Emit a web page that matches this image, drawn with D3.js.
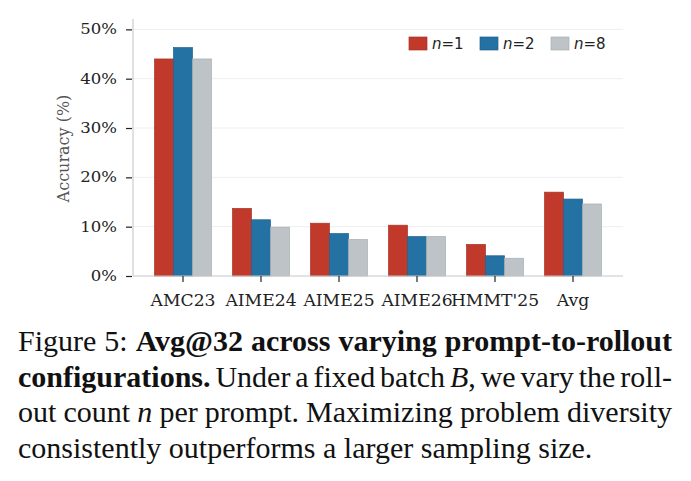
<!DOCTYPE html>
<html>
<head>
<meta charset="utf-8">
<script src="https://cdn.jsdelivr.net/npm/d3@7"></script>
<style>
  body { margin: 0; background: #fff; }
  svg { display: block; }
</style>
</head>
<body>
<div id="chart"></div>
<script>
const width = 691, height = 481;

// data
const categories = ["AMC23", "AIME24", "AIME25", "AIME26", "HMMT'25", "Avg"];
const seriesKeys = ["1", "2", "8"];
const n1 = [44.0, 13.7, 10.7, 10.3, 6.4, 17.0];
const n2 = [46.3, 11.4, 8.6, 8.0, 4.1, 15.6];
const n8 = [44.0, 9.9, 7.4, 8.0, 3.6, 14.6];
const yTicks = [0, 10, 20, 30, 40, 50];

const seriesValues = [n1, n2, n8];
const fills = ["#c0392b", "#2471a3", "#bdc3c7"];
const edges = ["#a93226", "#1f618d", "#a6afb3"];

const plot = {left: 133, right: 623, top: 19, bottom: 276};

const svg = d3.select("#chart")
  .append("svg")
  .attr("width", width)
  .attr("height", height);

// widen text a little, the figure in the paper is stretched sideways
function stretch(sel, k) {
  sel.each(function() {
    const w = this.getComputedTextLength();
    d3.select(this).attr("textLength", w * k).attr("lengthAdjust", "spacingAndGlyphs");
  });
}

const x0 = d3.scaleBand()
  .domain(categories)
  .range([plot.left, plot.right])
  .paddingInner(0.269)
  .paddingOuter(0.2755);

const x1 = d3.scaleBand()
  .domain(seriesKeys)
  .range([0, x0.bandwidth()]);

const y = d3.scaleLinear()
  .domain([0, 52.1])
  .range([plot.bottom, plot.top]);

// grid
svg.append("g")
  .selectAll("line")
  .data(yTicks.filter(d => d > 0))
  .join("line")
    .attr("x1", plot.left)
    .attr("x2", plot.right)
    .attr("y1", d => y(d))
    .attr("y2", d => y(d))
    .attr("stroke", "#eeeeee")
    .attr("stroke-width", 1);

// bars
const rows = categories.map((c, i) => ({cat: c, vals: seriesKeys.map((k, j) => ({key: k, j: j, v: seriesValues[j][i]}))}));

svg.append("g")
  .selectAll("g")
  .data(rows)
  .join("g")
    .attr("transform", d => `translate(${x0(d.cat)},0)`)
  .selectAll("rect")
  .data(d => d.vals)
  .join("rect")
    .attr("x", d => x1(d.key))
    .attr("y", d => y(d.v))
    .attr("width", x1.bandwidth())
    .attr("height", d => y(0) - y(d.v))
    .attr("fill", d => fills[d.j])
    .attr("stroke", d => edges[d.j])
    .attr("stroke-width", 0.7);

// spines
svg.append("line")
  .attr("x1", plot.left).attr("x2", plot.left)
  .attr("y1", plot.top).attr("y2", plot.bottom)
  .attr("stroke", "#c8c8c8").attr("stroke-width", 1.1);
svg.append("line")
  .attr("x1", plot.left).attr("x2", plot.right)
  .attr("y1", plot.bottom).attr("y2", plot.bottom)
  .attr("stroke", "#c8c8c8").attr("stroke-width", 1.1);

// y axis
const yAxis = svg.append("g")
  .attr("transform", `translate(${plot.left - 1},0)`)
  .call(d3.axisLeft(y).tickValues(yTicks).tickSize(6).tickPadding(9).tickFormat(d => d + "%"));
yAxis.select(".domain").remove();
yAxis.selectAll(".tick line").attr("stroke", "#222").attr("stroke-width", 1.2);
yAxis.selectAll(".tick text")
  .attr("font-family", "DejaVu Serif")
  .attr("font-size", 14)
  .attr("fill", "#222")
  .call(stretch, 1.18);

// x axis
const xAxis = svg.append("g")
  .attr("transform", `translate(0,${plot.bottom})`)
  .call(d3.axisBottom(x0).tickSize(6).tickPadding(12));
xAxis.select(".domain").remove();
xAxis.selectAll(".tick line").attr("stroke", "#222").attr("stroke-width", 1.2);
xAxis.selectAll(".tick text")
  .attr("font-family", "DejaVu Serif")
  .attr("font-size", 17.2)
  .attr("fill", "#222");

// y label
svg.append("text")
  .attr("transform", `translate(69,${(plot.top + plot.bottom) / 2 + 1}) rotate(-90)`)
  .attr("text-anchor", "middle")
  .attr("font-family", "DejaVu Serif")
  .attr("font-size", 16)
  .attr("fill", "#555")
  .text("Accuracy (%)");

// legend
const legend = svg.append("g").attr("transform", "translate(409,37)");
const item = legend.selectAll("g")
  .data(seriesKeys)
  .join("g")
    .attr("transform", (d, i) => `translate(${i * 71},0)`);
item.append("rect")
  .attr("width", 18)
  .attr("height", 13)
  .attr("fill", (d, i) => fills[i])
  .attr("stroke", (d, i) => edges[i])
  .attr("stroke-width", 0.7);
const lt = item.append("text")
  .attr("x", 23)
  .attr("y", 12)
  .attr("font-family", "DejaVu Sans")
  .attr("font-size", 15)
  .attr("fill", "#222");
lt.append("tspan").attr("font-style", "italic").text("n");
lt.append("tspan").text(d => "=" + d);

// caption, justified lines
const capLeft = 18, capRight = 672, capFont = 30;
const R = "normal", Bd = "bold", It = "italic";
const captionLines = [
  {justify: true, words: [
    [["Figure", R]], [["5:", R]], [["Avg@32", Bd]], [["across", Bd]], [["varying", Bd]], [["prompt-to-rollout", Bd]]]},
  {justify: true, words: [
    [["configurations.", Bd]], [["Under", R]], [["a", R]], [["fixed", R]], [["batch", R]], [["B", It], [",", R]],
    [["we", R]], [["vary", R]], [["the", R]], [["roll-", R]]]},
  {justify: true, words: [
    [["out", R]], [["count", R]], [["n", It]], [["per", R]], [["prompt.", R]], [["Maximizing", R]], [["problem", R]], [["diversity", R]]]},
  {justify: false, words: [
    [["consistently", R]], [["outperforms", R]], [["a", R]], [["larger", R]], [["sampling", R]], [["size.", R]]]}
];
const capBase = [351, 387, 422, 458];

const cap = svg.append("g")
  .attr("font-family", "Liberation Serif")
  .attr("font-size", capFont)
  .attr("fill", "#111");

captionLines.forEach((line, li) => {
  const texts = line.words.map(w => {
    const t = cap.append("text").attr("y", capBase[li]);
    w.forEach(([s, st]) => {
      const sp = t.append("tspan").text(s);
      if (st === Bd) sp.attr("font-weight", "bold");
      if (st === It) sp.attr("font-style", "italic");
    });
    return t;
  });
  const widths = texts.map(t => t.node().getComputedTextLength());
  const total = d3.sum(widths);
  const gap = line.justify ? (capRight - capLeft - total) / (texts.length - 1) : capFont * 0.25;
  let xPos = capLeft;
  texts.forEach((t, i) => {
    t.attr("x", xPos);
    xPos += widths[i] + gap;
  });
});
</script>
</body>
</html>
